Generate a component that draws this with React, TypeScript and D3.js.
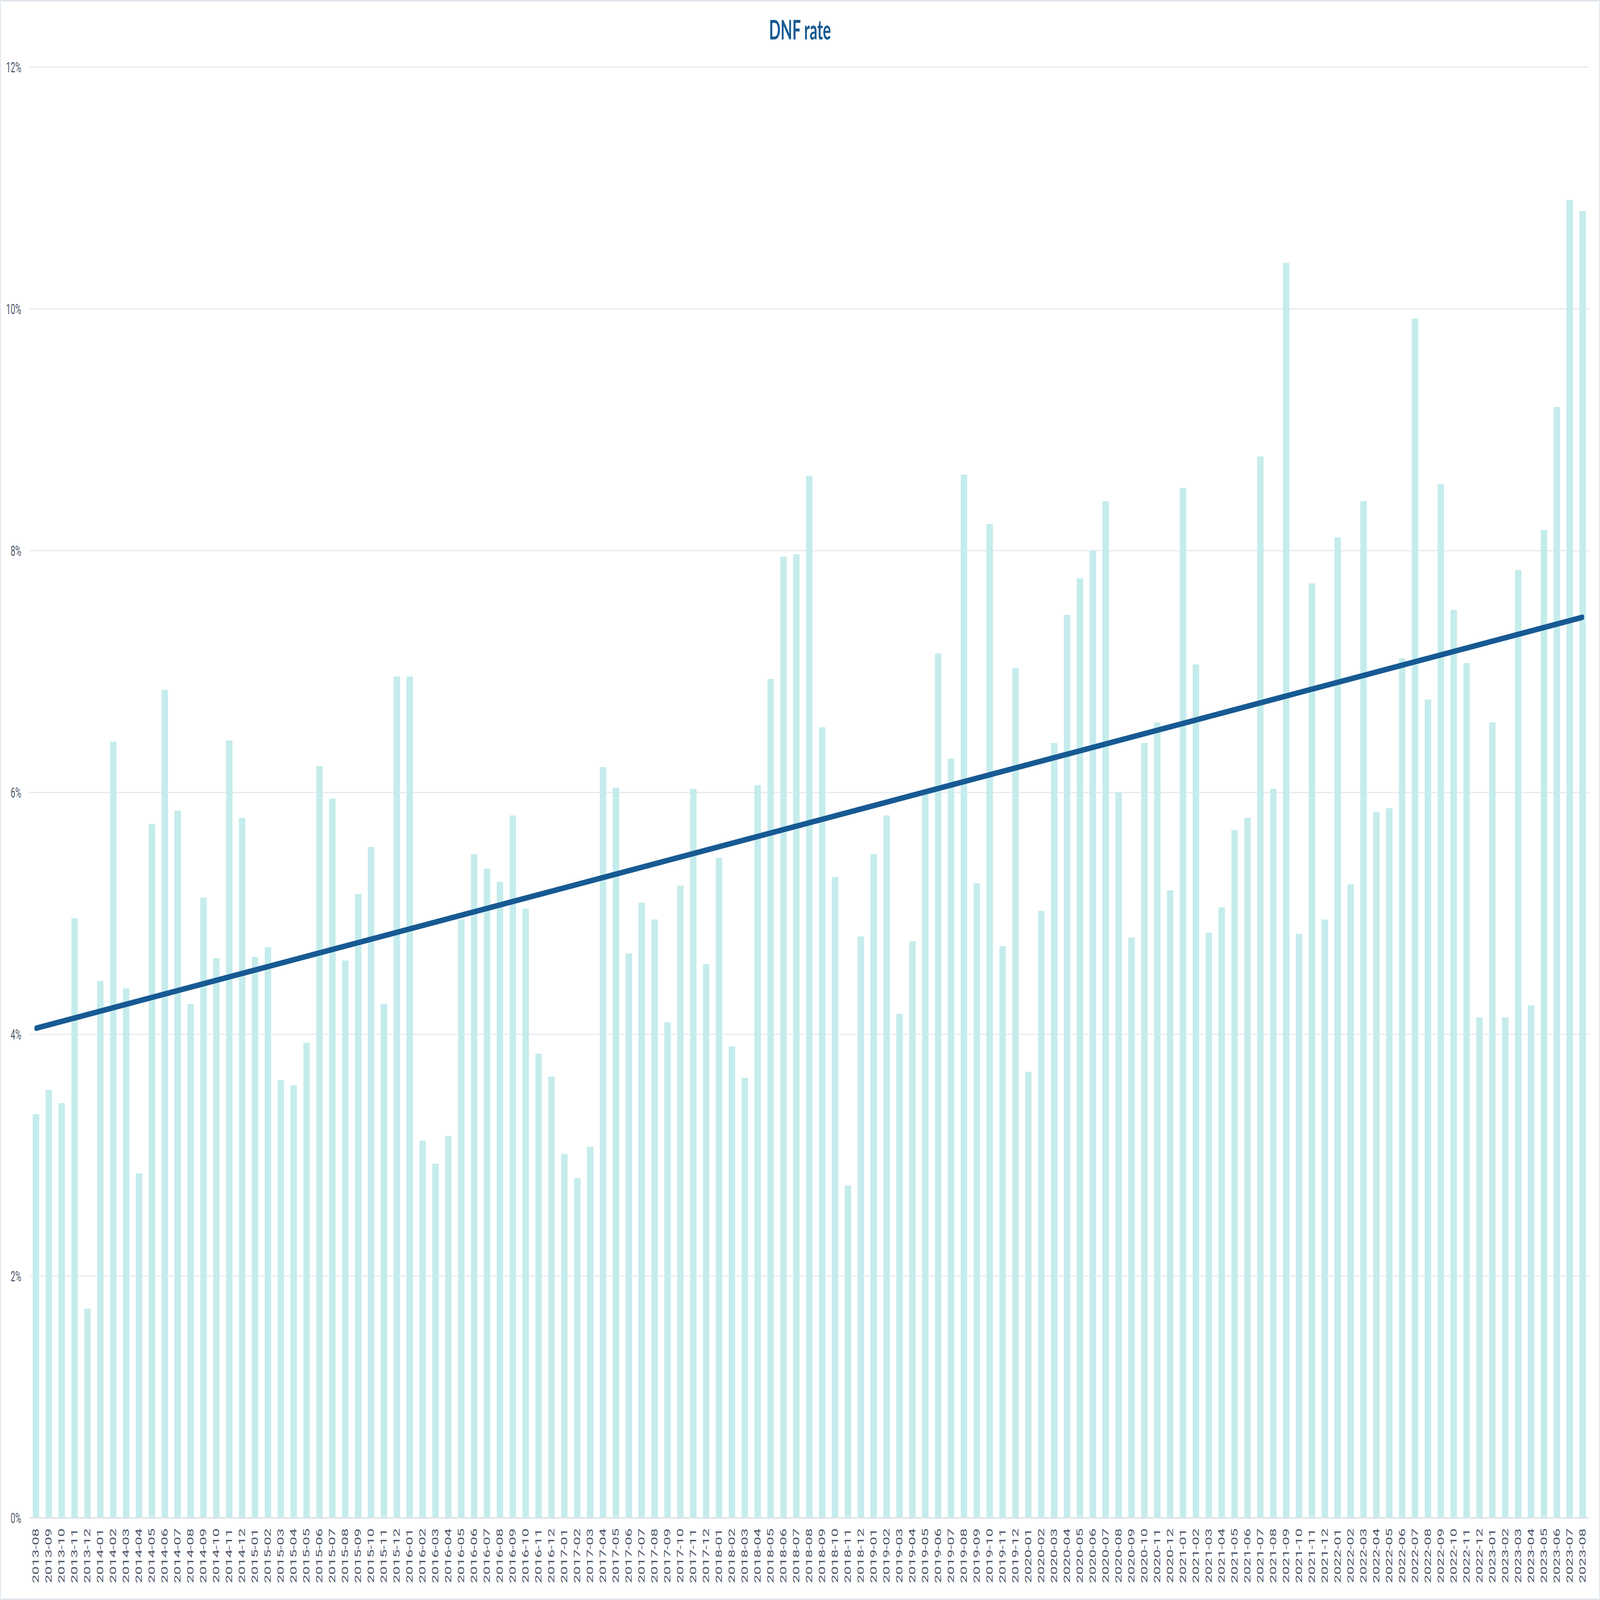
import { useEffect, useRef } from "react";
import * as d3 from "d3";

// monthly DNF rate (%), 2013-08 .. 2023-08
const months: string[] = [];
for (let y = 2013; y <= 2023; y++) {
    for (let m = 1; m <= 12; m++) {
        if ((y === 2013 && m < 8) || (y === 2023 && m > 8)) continue;
        months.push(`${y}-${String(m).padStart(2, "0")}`);
    }
}

const rate2013 = [3.34, 3.54, 3.43, 4.96, 1.73];
const rate2014 = [4.44, 6.42, 4.38, 2.85, 5.74, 6.85, 5.85, 4.25, 5.13, 4.63, 6.43, 5.79];
const rate2015 = [4.64, 4.72, 3.62, 3.58, 3.93, 6.22, 5.95, 4.61, 5.16, 5.55, 4.25, 6.96];
const rate2016 = [6.96, 3.12, 2.93, 3.16, 4.95, 5.49, 5.37, 5.26, 5.81, 5.04, 3.84, 3.65];
const rate2017 = [3.01, 2.81, 3.07, 6.21, 6.04, 4.67, 5.09, 4.95, 4.10, 5.23, 6.03, 4.58];
const rate2018 = [5.46, 3.90, 3.64, 6.06, 6.94, 7.95, 7.97, 8.62, 6.54, 5.30, 2.75, 4.81];
const rate2019 = [5.49, 5.81, 4.17, 4.77, 5.99, 7.15, 6.28, 8.63, 5.25, 8.22, 4.73, 7.03];
const rate2020 = [3.69, 5.02, 6.41, 7.47, 7.77, 8.00, 8.41, 6.00, 4.80, 6.41, 6.58, 5.19];
const rate2021 = [8.52, 7.06, 4.84, 5.05, 5.69, 5.79, 8.78, 6.03, 10.38, 4.83, 7.73, 4.95];
const rate2022 = [8.11, 5.24, 8.41, 5.84, 5.87, 7.11, 9.92, 6.77, 8.55, 7.51, 7.07, 4.14];
const rate2023 = [6.58, 4.14, 7.84, 4.24, 8.17, 9.19, 10.90, 10.81];

const rates = [
    ...rate2013, ...rate2014, ...rate2015, ...rate2016, ...rate2017, ...rate2018,
    ...rate2019, ...rate2020, ...rate2021, ...rate2022, ...rate2023,
];

// trend line values at the first and last month
const trendValues = [4.05, 7.45];

const yTicks = [0, 2, 4, 6, 8, 10, 12];

const width = 7599;
const height = 4269;
const margin = { top: 179, right: 52, bottom: 219, left: 140 };

export default function App() {
    const svgRef = useRef<SVGSVGElement | null>(null);

    useEffect(() => {
        // the window is smaller than the chart, so the svg is stretched over it via viewBox
        const svg = d3.select(svgRef.current)
            .attr("viewBox", [0, 0, width, height])
            .attr("preserveAspectRatio", "none");
        svg.selectAll("*").remove();

        svg.append("rect")
            .attr("x", 2).attr("y", 2)
            .attr("width", width - 4).attr("height", height - 4)
            .attr("fill", "white")
            .attr("stroke", "#dfe5eb")
            .attr("stroke-width", 4);

        const xScale = d3.scaleBand<string>()
            .domain(months)
            .range([margin.left, width - margin.right])
            .paddingInner(0.5)
            .paddingOuter(0.25);

        const yScale = d3.scaleLinear()
            .domain([0, 12])
            .range([height - margin.bottom, margin.top]);

        svg.append("text")
            .attr("x", width / 2)
            .attr("y", 105)
            .attr("text-anchor", "middle")
            .style("font-family", "Lato, sans-serif")
            .style("font-weight", "bold")
            .style("font-size", "72px")
            .style("fill", "#175a93")
            .text("DNF rate");

        // grid + y labels
        svg.append("g")
            .selectAll("line")
            .data(yTicks.filter(t => t > 0))
            .join("line")
            .attr("x1", margin.left)
            .attr("x2", width - margin.right)
            .attr("y1", d => yScale(d))
            .attr("y2", d => yScale(d))
            .attr("stroke", "#e6e9ed")
            .attr("stroke-width", 3);

        svg.append("g")
            .selectAll("text")
            .data(yTicks)
            .join("text")
            .attr("x", 101)
            .attr("y", d => yScale(d))
            .attr("text-anchor", "end")
            .attr("dominant-baseline", "central")
            .style("font-family", "Roboto, sans-serif")
            .style("font-size", "39px")
            .style("fill", "#4a5568")
            .text(d => `${d}%`);

        // bars
        svg.append("g")
            .selectAll("rect")
            .data(rates)
            .join("rect")
            .attr("x", (_, i) => xScale(months[i])!)
            .attr("width", xScale.bandwidth())
            .attr("y", d => yScale(d))
            .attr("height", d => yScale(0) - yScale(d))
            .attr("fill", "#c5ecec");

        // baseline
        svg.append("line")
            .attr("x1", margin.left)
            .attr("x2", width - margin.right)
            .attr("y1", yScale(0))
            .attr("y2", yScale(0))
            .attr("stroke", "#dde3ea")
            .attr("stroke-width", 4);

        // x labels
        const half = xScale.bandwidth() / 2;
        svg.append("g")
            .selectAll("text")
            .data(months)
            .join("text")
            .attr("transform", d => `translate(${xScale(d)! + half},${yScale(0) + 28}) rotate(-90)`)
            .attr("text-anchor", "end")
            .attr("dominant-baseline", "central")
            .style("font-family", "Roboto, sans-serif")
            .style("font-size", "40px")
            .style("fill", "#4a5568")
            .text(d => d);

        // trend line
        const trendPts: [string, number][] = [
            [months[0], trendValues[0]],
            [months[months.length - 1], trendValues[1]],
        ];
        const line = d3.line<[string, number]>()
            .x(d => xScale(d[0])! + half)
            .y(d => yScale(d[1]));
        svg.append("path")
            .datum(trendPts)
            .attr("d", line)
            .attr("fill", "none")
            .attr("stroke", "#175a93")
            .attr("stroke-width", 15)
            .attr("stroke-linecap", "round");
    }, []);

    return (
        <div style={{ position: "absolute", left: 0, top: 0, width: "100vw", height: "100vh", overflow: "hidden" }}>
            <svg ref={svgRef} style={{ display: "block", width: "100vw", height: "100vh" }} />
        </div>
    );
}
